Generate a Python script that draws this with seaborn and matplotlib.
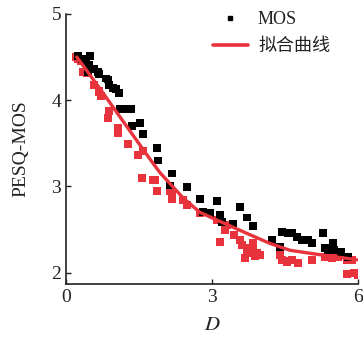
import matplotlib
matplotlib.use("Agg")
import matplotlib.pyplot as plt
import seaborn as sns
import pandas as pd
from matplotlib.lines import Line2D

# MOS (black) measurements
mos_x = [0.25, 0.33, 0.37, 0.41, 0.47, 0.45, 0.49, 0.57, 0.66, 0.68, 0.82, 0.86, 0.88, 0.97,
         1.03, 1.09, 1.11, 1.27, 1.33, 1.36, 1.52, 1.58, 1.87, 1.89, 2.18, 2.14, 2.48, 2.75,
         3.10, 2.81, 2.96, 3.16, 3.20, 3.43, 3.57, 3.72, 3.84, 4.44, 4.23, 4.39, 4.56, 4.64,
         4.74, 4.85, 4.97, 5.05, 5.28, 5.32, 5.38, 5.48, 5.52, 5.79, 5.66]
mos_y = [4.51, 4.48, 4.48, 4.45, 4.41, 4.33, 4.51, 4.36, 4.33, 4.30, 4.25, 4.24, 4.18, 4.14,
         4.13, 4.08, 3.90, 3.90, 3.90, 3.70, 3.74, 3.61, 3.45, 3.30, 3.15, 3.01, 2.99, 2.85,
         2.83, 2.70, 2.69, 2.67, 2.59, 2.57, 2.76, 2.64, 2.54, 2.47, 2.38, 2.30, 2.46, 2.46,
         2.41, 2.38, 2.38, 2.34, 2.46, 2.29, 2.26, 2.34, 2.26, 2.18, 2.24]

# PESQ (red) measurements
pesq_x = [0.20, 0.25, 0.31, 0.35, 0.39, 0.43, 0.57, 0.68, 0.72, 0.88, 0.86, 1.07, 1.07, 1.27,
          1.48, 1.58, 1.56, 1.79, 1.83, 1.87, 2.14, 2.18, 2.18, 2.40, 2.48, 2.75, 3.10, 3.31,
          3.26, 3.16, 3.45, 3.57, 3.84, 3.84, 3.72, 3.92, 3.68, 3.98, 3.78, 3.62, 3.88, 4.39,
          4.44, 4.54, 4.64, 4.76, 5.05, 5.32, 5.46, 5.59, 5.77, 5.87, 5.77, 5.93, 6.00]
pesq_y = [4.50, 4.48, 4.45, 4.33, 4.46, 4.31, 4.18, 4.10, 4.05, 3.87, 3.79, 3.68, 3.62, 3.49,
          3.36, 3.41, 3.10, 3.07, 3.07, 2.95, 2.95, 2.90, 2.86, 2.84, 2.78, 2.69, 2.61, 2.55,
          2.49, 2.36, 2.44, 2.38, 2.34, 2.26, 2.23, 2.23, 2.17, 2.21, 2.29, 2.32, 2.19, 2.21,
          2.15, 2.13, 2.15, 2.11, 2.15, 2.18, 2.17, 2.18, 2.15, 2.15, 1.98, 2.00, 1.97]

# Fitted curve
fit_x = [0.22, 0.70, 1.38, 1.72, 1.93, 2.40, 2.75, 3.10, 3.78, 4.19, 4.60, 5.20, 5.98]
fit_y = [4.50, 4.13, 3.59, 3.32, 3.16, 2.87, 2.70, 2.61, 2.44, 2.34, 2.26, 2.21, 2.15]

xticks = [0, 3, 6]
yticks = [2, 3, 4, 5]

RED = "#e8323c"

sns.set_theme(style="ticks")
plt.rcParams["font.family"] = ["Liberation Serif", "Noto Sans CJK SC"]
plt.rcParams["mathtext.fontset"] = "stix"

fig = plt.figure(figsize=(3.63, 3.38), dpi=100)
ax = fig.add_axes([0.182, 0.160, 0.804, 0.799])

sns.scatterplot(x=pesq_x, y=pesq_y, ax=ax, marker="s", s=34, color=RED,
                edgecolor="none", linewidth=0, zorder=2)
sns.scatterplot(x=mos_x, y=mos_y, ax=ax, marker="s", s=32, color="black",
                edgecolor="none", linewidth=0, zorder=3)
sns.lineplot(x=fit_x, y=fit_y, ax=ax, color=RED, linewidth=2.4, zorder=4,
             sort=True, estimator=None)

ax.set_xlim(0, 6)
ax.set_ylim(1.87, 5)
ax.set_xticks(xticks)
ax.set_yticks(yticks)
ax.set_xticklabels([str(t) for t in xticks])
ax.set_yticklabels([str(t) for t in yticks])
ax.tick_params(direction="in", length=3.5, width=1, labelsize=14, colors="#222222",
               labelcolor="#222222")
for s in ["top", "right"]:
    ax.spines[s].set_visible(False)
for s in ["left", "bottom"]:
    ax.spines[s].set_color("#222222")
    ax.spines[s].set_linewidth(1.2)

ax.set_xlabel("$D$", fontsize=15, color="#222222", labelpad=7)
ax.set_ylabel("PESQ-MOS", fontsize=14, color="#222222", labelpad=16)

handles = [Line2D([], [], marker="s", color="black", linestyle="none", markersize=3.5),
           Line2D([], [], color=RED, linewidth=2.6)]
leg = ax.legend(handles, ["MOS", "拟合曲线"], loc="upper left", frameon=False,
                fontsize=13, handlelength=1.95, handletextpad=0.55, labelspacing=0.55,
                borderpad=0, borderaxespad=0, bbox_to_anchor=(0.503, 1.01))
for t in leg.get_texts():
    t.set_color("#222222")

fig.savefig("out.png", dpi=100)
